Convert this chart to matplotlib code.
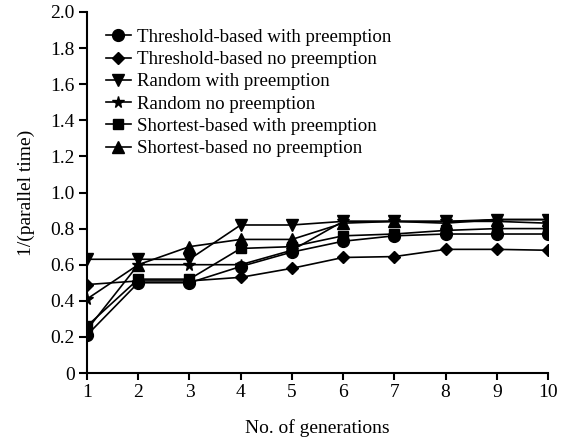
import numpy as np
import matplotlib.pyplot as plt

plt.rcParams['font.family'] = ['Liberation Serif', 'DejaVu Serif']

# Datos
generations = np.arange(1, 11)
labels = ["Threshold-based with preemption",
          "Threshold-based no preemption",
          "Random with preemption",
          "Random no preemption",
          "Shortest-based with preemption",
          "Shortest-based no preemption"]
thr_pre = [0.21, 0.50, 0.50, 0.59, 0.67, 0.73, 0.76, 0.77, 0.77, 0.77]
thr_nopre = [0.49, 0.51, 0.51, 0.53, 0.58, 0.64, 0.645, 0.685, 0.685, 0.68]
rand_pre = [0.63, 0.63, 0.63, 0.82, 0.82, 0.84, 0.84, 0.84, 0.85, 0.85]
rand_nopre = [0.41, 0.60, 0.60, 0.60, 0.68, 0.84, 0.84, 0.84, 0.84, 0.83]
short_pre = [0.26, 0.52, 0.52, 0.69, 0.70, 0.76, 0.77, 0.79, 0.80, 0.80]
short_nopre = [0.24, 0.60, 0.70, 0.74, 0.74, 0.83, 0.84, 0.83, 0.85, 0.85]
y_ticks = [0, 0.2, 0.4, 0.6, 0.8, 1.0, 1.2, 1.4, 1.6, 1.8, 2.0]

series = [thr_pre, thr_nopre, rand_pre, rand_nopre, short_pre, short_nopre]
markers = ['o', 'D', 'v', '*', 's', '^']
sizes = [8.5, 6.5, 8.5, 8.5, 7.5, 8.5]

fig = plt.figure(figsize=(5.64, 4.38), dpi=100)
ax = fig.add_axes([87/564, 1 - 373/438, (548-87)/564, (373-12)/438])

for y, m, s, lab in zip(series, markers, sizes, labels):
    ax.plot(generations, y, '-', color='black', marker=m, markersize=s,
            linewidth=1.2, label=lab)

ax.set_xlim(1, 10)
ax.set_ylim(0, 2.0)
ax.set_xticks(generations)
ax.set_yticks(y_ticks)
ax.set_yticklabels(['0'] + ['%.1f' % v for v in y_ticks[1:]])
ax.spines['top'].set_visible(False)
ax.spines['right'].set_visible(False)
ax.spines['left'].set_linewidth(1.5)
ax.spines['bottom'].set_linewidth(1.5)
ax.tick_params(axis='y', direction='out', length=6, width=1.5, labelsize=14, pad=3)
ax.tick_params(axis='x', direction='out', length=5, width=1.5, labelsize=14, pad=3)
for lbl in ax.get_xticklabels() + ax.get_yticklabels():
    lbl.set_clip_on(False)

ax.set_xlabel("No. of generations", fontsize=14, labelpad=13)
ax.set_ylabel("1/(parallel time)", fontsize=14, labelpad=11)

ax.legend(loc='upper left', bbox_to_anchor=(0.025, 0.975), frameon=False,
          fontsize=13.6, handlelength=1.3, handletextpad=0.35, labelspacing=0.27,
          borderaxespad=0)

fig.savefig("out.png", dpi=100)
